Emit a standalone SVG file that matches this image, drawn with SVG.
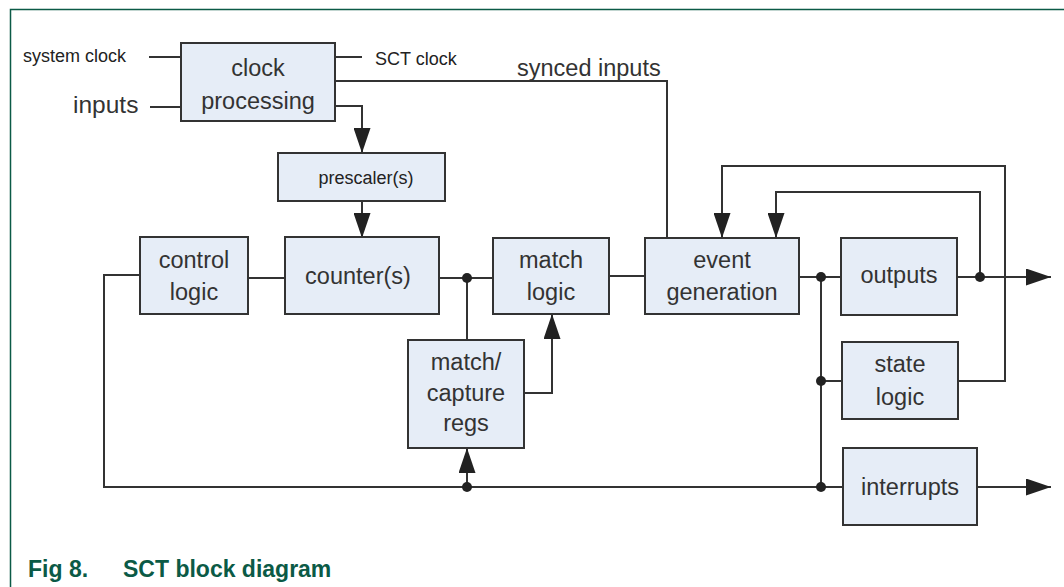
<svg xmlns="http://www.w3.org/2000/svg" width="1064" height="587" viewBox="0 0 1064 587">
<defs>
<style>
.box{fill:#e6edf7;stroke:#333;stroke-width:2}
.ln{fill:none;stroke:#333;stroke-width:2}
.t{font-family:"Liberation Sans",Arial,sans-serif;fill:#333;text-anchor:middle;font-size:23.5px}
.s{font-family:"Liberation Sans",Arial,sans-serif;fill:#222;font-size:18px}
.cap{font-family:"Liberation Sans",Arial,sans-serif;fill:#0b5a46;font-size:23px;font-weight:bold}
.dot{fill:#222}
</style>
<marker id="ah" viewBox="0 0 25 17" refX="25" refY="8.5" markerWidth="25" markerHeight="17" markerUnits="userSpaceOnUse" orient="auto">
<path d="M0,0 L25,8.5 L0,17 Z" fill="#222"/>
</marker>
</defs>
<rect width="1064" height="587" fill="#fff"/>
<path d="M10.5,587 V9.5 H1064" fill="none" stroke="#0b5a46" stroke-width="1.5"/>

<g id="connectors">
<path class="ln" d="M149,57 H181"/>
<path class="ln" d="M150,107 H181"/>
<path class="ln" d="M335,57 H362"/>
<path class="ln" d="M335,81 H667 V238"/>
<path class="ln" d="M335,106 H362 V153" marker-end="url(#ah)"/>
<path class="ln" d="M362,201 V238" marker-end="url(#ah)"/>
<path class="ln" d="M248,278 H285"/>
<path class="ln" d="M439,278 H493"/>
<path class="ln" d="M467,278 V340"/>
<path class="ln" d="M524,393 H552 V314" marker-end="url(#ah)"/>
<path class="ln" d="M467,487 V448" marker-end="url(#ah)"/>
<path class="ln" d="M609,276 H645"/>
<path class="ln" d="M799,277 H841"/>
<path class="ln" d="M821,277 V487"/>
<path class="ln" d="M821,381 H842"/>
<path class="ln" d="M140,275 H104 V487 H843"/>
<path class="ln" d="M957,277 H1051" marker-end="url(#ah)"/>
<path class="ln" d="M977,487 H1051" marker-end="url(#ah)"/>
<path class="ln" d="M980,277 V192 H776 V238" marker-end="url(#ah)"/>
<path class="ln" d="M958,381 H1005 V166 H722 V238" marker-end="url(#ah)"/>
<circle class="dot" cx="467" cy="278" r="5"/>
<circle class="dot" cx="467" cy="487" r="5"/>
<circle class="dot" cx="821" cy="277" r="5"/>
<circle class="dot" cx="821" cy="381" r="5"/>
<circle class="dot" cx="821" cy="487" r="5"/>
<circle class="dot" cx="980" cy="277" r="5"/>
</g>

<g id="labels">
<text class="s" x="23" y="62">system clock</text>
<text class="s" x="375" y="65">SCT clock</text>
<text class="t" x="73" y="113" style="text-anchor:start;font-size:24.5px">inputs</text>
<text class="t" x="517" y="76" style="text-anchor:start;font-size:23.5px">synced inputs</text>
</g>

<g id="clock-processing">
<rect class="box" x="181" y="43" width="154" height="78"/>
<text class="t" x="258" y="76">clock</text>
<text class="t" x="258" y="109">processing</text>
</g>
<g id="prescaler">
<rect class="box" x="278" y="153" width="167" height="48"/>
<text class="s" x="366" y="184" text-anchor="middle">prescaler(s)</text>
</g>
<g id="control-logic">
<rect class="box" x="140" y="237" width="108" height="77"/>
<text class="t" x="194" y="268">control</text>
<text class="t" x="194" y="300">logic</text>
</g>
<g id="counters">
<rect class="box" x="285" y="237" width="154" height="77"/>
<text class="t" x="358" y="284">counter(s)</text>
</g>
<g id="match-logic">
<rect class="box" x="493" y="238" width="116" height="76"/>
<text class="t" x="551" y="268">match</text>
<text class="t" x="551" y="300">logic</text>
</g>
<g id="match-capture-regs">
<rect class="box" x="408" y="340" width="116" height="108"/>
<text class="t" x="466" y="370">match/</text>
<text class="t" x="466" y="401">capture</text>
<text class="t" x="466" y="431">regs</text>
</g>
<g id="event-generation">
<rect class="box" x="645" y="238" width="154" height="76"/>
<text class="t" x="722" y="268">event</text>
<text class="t" x="722" y="300">generation</text>
</g>
<g id="outputs">
<rect class="box" x="841" y="238" width="116" height="77"/>
<text class="t" x="899" y="283">outputs</text>
</g>
<g id="state-logic">
<rect class="box" x="842" y="342" width="116" height="77"/>
<text class="t" x="900" y="372">state</text>
<text class="t" x="900" y="405">logic</text>
</g>
<g id="interrupts">
<rect class="box" x="843" y="448" width="134" height="77"/>
<text class="t" x="910" y="495">interrupts</text>
</g>

<g id="caption">
<text class="cap" x="28" y="577">Fig 8.</text>
<text class="cap" x="123" y="577">SCT block diagram</text>
</g>
</svg>
